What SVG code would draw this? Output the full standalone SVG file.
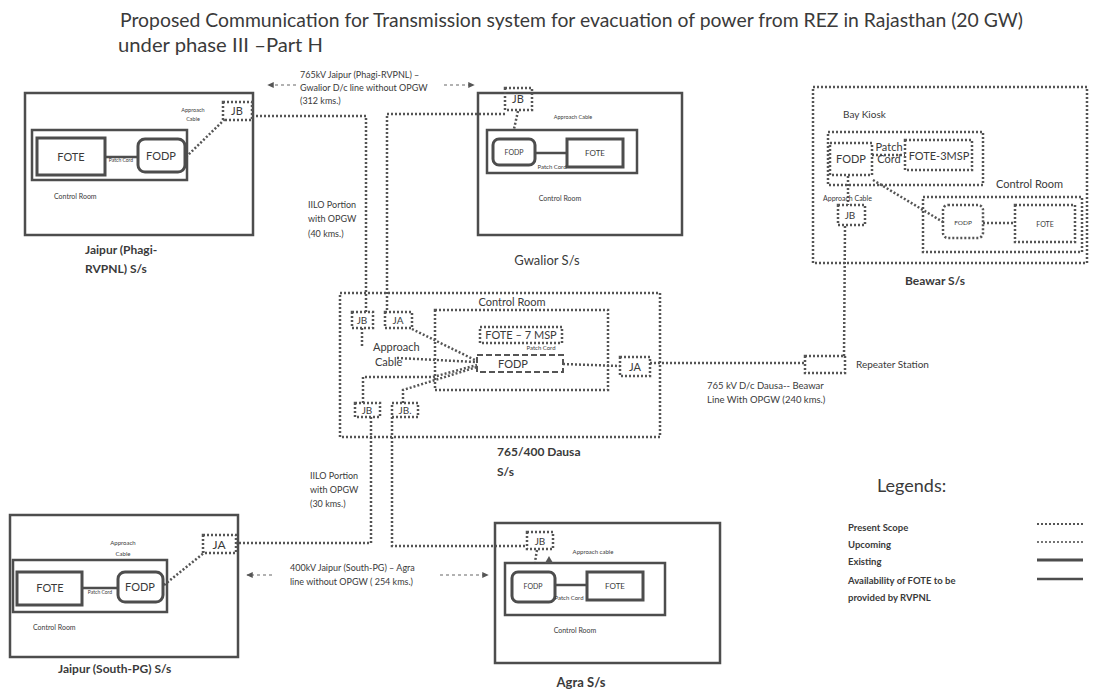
<svg xmlns="http://www.w3.org/2000/svg" width="1095" height="694" viewBox="0 0 1095 694">
<style>
text{font-family:Lato,"Open Sans","Liberation Sans",sans-serif;fill:#3a3a3a}
.b{font-weight:bold}
.box{fill:none;stroke:#4d4d4d;stroke-width:2.5}
.eq{fill:#fff;stroke:#4d4d4d;stroke-width:3}
.dot{fill:none;stroke:#555;stroke-width:2.5;stroke-dasharray:2 2}
.rdot{fill:none;stroke:#555;stroke-width:2.2;stroke-linecap:round;stroke-dasharray:0 4}
.dash{fill:none;stroke:#555;stroke-width:2;stroke-dasharray:6 3}
.sol{fill:none;stroke:#4d4d4d;stroke-width:2.5}
.arw{fill:none;stroke:#666;stroke-width:1.2;stroke-dasharray:3 3}
.m{text-anchor:middle}
</style>
<defs>
<marker id="ah" viewBox="0 0 10 10" refX="8" refY="5" markerWidth="6" markerHeight="6" orient="auto-start-reverse">
<path d="M0,1 L9,5 L0,9 z" fill="#555"/>
</marker>
</defs>
<rect width="1095" height="694" fill="#fff"/>

<g id="title">
<text x="120" y="27" font-size="19" textLength="903" lengthAdjust="spacingAndGlyphs">Proposed Communication for Transmission system for evacuation of power from REZ in Rajasthan (20 GW)</text>
<text x="118" y="52" font-size="19" textLength="205" lengthAdjust="spacingAndGlyphs">under phase III –Part H</text>
</g>

<g id="connectors">
<!-- top: Jaipur Phagi JB to Dausa, Gwalior JB to Dausa -->
<polyline class="dot" points="252,116 366,116 366,312"/>
<polyline class="dot" points="505,114 387,114 387,312"/>
<line class="dot" x1="518" y1="111" x2="514" y2="129"/>
<!-- bottom: Dausa to Jaipur South and Agra -->
<polyline class="dot" points="371,417 371,543 236,543"/>
<polyline class="dot" points="392,417 392,546 527,546"/>
<line class="dot" x1="537" y1="550" x2="535" y2="562"/>
<!-- Dausa to repeater to Beawar -->
<line class="dot" x1="650" y1="363" x2="805" y2="363"/>
<line class="dot" x1="845" y1="226" x2="844" y2="356"/>
<!-- Dausa internal approach cables -->
<line class="dot" x1="412" y1="329" x2="477" y2="361"/>
<line class="dot" x1="362" y1="328" x2="362" y2="346"/>
<line class="dot" x1="397" y1="358" x2="476" y2="362"/>
<polyline class="dot" points="363,403 363,377 433,377 477,365"/>
<polyline class="dot" points="403,403 403,390 477,367"/>
<line class="dot" x1="563" y1="364" x2="620" y2="366"/>
<!-- Jaipur Phagi internal -->
<line class="dot" x1="186" y1="157" x2="225" y2="119"/>
<!-- Jaipur South internal -->
<line class="dot" x1="164" y1="585" x2="205" y2="552"/>
<!-- Beawar internal -->
<line class="dot" x1="872" y1="155" x2="905" y2="155"/>
<line class="dot" x1="848" y1="176" x2="848" y2="205"/>
<line class="dot" x1="873" y1="180" x2="943" y2="222"/>
<line class="dot" x1="983" y1="223" x2="1015" y2="223"/>
<!-- line labels with arrows -->
<line class="arw" x1="296" y1="85" x2="268" y2="85" marker-end="url(#ah)"/>
<line class="arw" x1="444" y1="85" x2="474" y2="85" marker-end="url(#ah)"/>
<line class="arw" x1="272" y1="575" x2="247" y2="575" marker-end="url(#ah)"/>
<line class="arw" x1="440" y1="575" x2="488" y2="575" marker-end="url(#ah)"/>
</g>

<g id="line-labels">
<text x="300" y="78" font-size="9">765kV Jaipur (Phagi-RVPNL) –</text>
<text x="300" y="91" font-size="9">Gwalior  D/c line without OPGW</text>
<text x="300" y="104" font-size="9">(312 kms.)</text>
<text x="308" y="208" font-size="9">IILO Portion</text>
<text x="308" y="222" font-size="9">with OPGW</text>
<text x="308" y="237" font-size="9">(40 kms.)</text>
<text x="310" y="479" font-size="9">IILO Portion</text>
<text x="310" y="493" font-size="9">with OPGW</text>
<text x="310" y="507" font-size="9">(30 kms.)</text>
<text x="290" y="571" font-size="9">400kV Jaipur (South-PG) – Agra</text>
<text x="290" y="585" font-size="9">line without OPGW ( 254 kms.)</text>
<text x="707" y="389" font-size="9.5">765 kV D/c Dausa-- Beawar</text>
<text x="707" y="403" font-size="9.5">Line With  OPGW (240 kms.)</text>
</g>

<g id="jaipur-phagi">
<rect class="box" x="25" y="93" width="228" height="142"/>
<rect class="box" x="32" y="130" width="155" height="50"/>
<rect class="eq" x="37" y="138" width="68" height="37"/>
<rect class="eq" x="138" y="139" width="47" height="33" rx="7"/>
<line class="sol" x1="105" y1="157" x2="138" y2="157"/>
<text class="m" x="71" y="161" font-size="11">FOTE</text>
<text class="m" x="161" y="160" font-size="11">FODP</text>
<text class="m" x="121" y="162" font-size="5">Patch Cord</text>
<text class="m" x="193" y="112" font-size="5.5">Approach</text>
<text class="m" x="193" y="121" font-size="5.5">Cable</text>
<rect class="dot" x="223" y="102" width="29" height="18"/>
<text class="m" x="237" y="115" font-size="11">JB</text>
<text x="54" y="199" font-size="7">Control Room</text>
<text class="b" x="85" y="254" font-size="12">Jaipur (Phagi-</text>
<text class="b" x="85" y="273" font-size="12">RVPNL) S/s</text>
</g>

<g id="gwalior">
<rect class="box" x="478" y="93" width="204" height="142"/>
<rect class="box" x="487" y="130" width="150" height="43"/>
<rect class="eq" x="493" y="139" width="42" height="26" rx="6"/>
<rect class="eq" x="567" y="139" width="56" height="28"/>
<line class="sol" x1="535" y1="153" x2="567" y2="153"/>
<text class="m" x="514" y="155" font-size="7">FODP</text>
<text class="m" x="595" y="156" font-size="8">FOTE</text>
<text class="m" x="552" y="169" font-size="6">Patch Cord</text>
<text class="m" x="560" y="201" font-size="7">Control Room</text>
<rect class="dot" x="505" y="88" width="27" height="22" fill="#fff"/>
<text class="m" x="518" y="103" font-size="11">JB</text>
<text class="m" x="573" y="119" font-size="5.5">Approach Cable</text>
<text class="m" x="547" y="265" font-size="13">Gwalior S/s</text>
</g>

<g id="dausa">
<rect class="dot" x="340" y="293" width="320" height="144"/>
<text class="m" x="512" y="306" font-size="11">Control Room</text>
<rect class="dot" x="435" y="310" width="173" height="80"/>
<rect class="dot" x="480" y="327" width="82" height="16"/>
<text class="m" x="521" y="339" font-size="11">FOTE – 7 MSP</text>
<text class="m" x="541" y="350" font-size="6">Patch Cord</text>
<rect class="dash" x="477" y="355" width="86" height="17"/>
<text class="m" x="513" y="368" font-size="11">FODP</text>
<rect class="dot" x="352" y="312" width="21" height="16"/>
<text class="m" x="362" y="324" font-size="10">JB</text>
<rect class="dot" x="385" y="312" width="27" height="16"/>
<text class="m" x="398" y="324" font-size="10">JA</text>
<text x="373" y="351" font-size="11">Approach</text>
<text x="375" y="366" font-size="11">Cable</text>
<rect class="dot" x="355" y="403" width="25" height="14"/>
<text class="m" x="367" y="414" font-size="10">JB</text>
<rect class="dot" x="392" y="403" width="26" height="14"/>
<text class="m" x="405" y="414" font-size="10">JB.</text>
<rect class="dot" x="620" y="357" width="30" height="19"/>
<text class="m" x="635" y="371" font-size="11">JA</text>
<text class="b" x="497" y="456" font-size="12">765/400 Dausa</text>
<text class="b" x="497" y="476" font-size="12">S/s</text>
</g>

<g id="repeater">
<rect class="dot" x="805" y="356" width="40" height="17"/>
<text x="856" y="368" font-size="10">Repeater Station</text>
</g>

<g id="beawar">
<rect class="dot" x="813" y="87" width="274" height="176"/>
<text x="843" y="118" font-size="10">Bay Kiosk</text>
<rect class="dot" x="828" y="132" width="155" height="53"/>
<rect class="dot" x="830" y="143" width="42" height="32"/>
<text class="m" x="851" y="163" font-size="11">FODP</text>
<text class="m" x="889" y="151" font-size="11">Patch</text>
<text class="m" x="889" y="163" font-size="11">Cord</text>
<rect class="dot" x="905" y="140" width="67" height="30"/>
<text class="m" x="939" y="160" font-size="11">FOTE-3MSP</text>
<text x="996" y="188" font-size="11">Control Room</text>
<text x="823" y="201" font-size="7">Approach Cable</text>
<rect class="dot" x="838" y="205" width="27" height="20"/>
<text class="m" x="850" y="219" font-size="10">JB</text>
<rect class="dot" x="923" y="197" width="159" height="55"/>
<rect class="dot" x="943" y="205" width="40" height="33" rx="5"/>
<text class="m" x="963" y="225" font-size="6.5">FODP</text>
<rect class="dot" x="1015" y="205" width="60" height="37"/>
<text class="m" x="1045" y="227" font-size="7">FOTE</text>
<text class="b" x="905" y="285" font-size="12">Beawar S/s</text>
</g>

<g id="jaipur-south">
<rect class="box" x="10" y="515" width="228" height="142"/>
<rect class="box" x="13" y="560" width="154" height="52"/>
<rect class="eq" x="17" y="572" width="65" height="33"/>
<rect class="eq" x="118" y="572" width="45" height="30" rx="7"/>
<line class="sol" x1="82" y1="588" x2="118" y2="588"/>
<text class="m" x="50" y="592" font-size="11">FOTE</text>
<text class="m" x="140" y="591" font-size="11">FODP</text>
<text class="m" x="100" y="594" font-size="5">Patch Cord</text>
<text class="m" x="123" y="545" font-size="6">Approach</text>
<text class="m" x="123" y="556" font-size="6">Cable</text>
<rect class="dot" x="203" y="535" width="33" height="18"/>
<text class="m" x="219" y="549" font-size="12">JA</text>
<text x="33" y="630" font-size="7">Control Room</text>
<text class="b" x="58" y="673" font-size="12">Jaipur (South-PG) S/s</text>
</g>

<g id="agra">
<rect class="box" x="495" y="523" width="225" height="140"/>
<rect class="box" x="505" y="563" width="160" height="52"/>
<rect class="eq" x="512" y="572" width="43" height="30" rx="6"/>
<rect class="eq" x="587" y="572" width="56" height="28"/>
<line class="sol" x1="555" y1="585" x2="587" y2="585"/>
<text class="m" x="533" y="589" font-size="7">FODP</text>
<text class="m" x="615" y="589" font-size="8">FOTE</text>
<text class="m" x="569" y="600" font-size="6">Patch Cord</text>
<rect class="dot" x="527" y="532" width="26" height="17" fill="#fff"/>
<text class="m" x="540" y="545" font-size="10">JB</text>
<path d="M545,563 L549,556 L553,563 z" fill="#555"/>
<text class="m" x="593" y="554" font-size="6">Approach cable</text>
<text class="m" x="575" y="633" font-size="7">Control Room</text>
<text class="b m" x="581" y="687" font-size="13">Agra S/s</text>
</g>

<g id="legend">
<text x="877" y="492" font-size="18" fill="#444">Legends:</text>
<text class="b" x="848" y="531" font-size="9.5">Present Scope</text>
<text class="b" x="848" y="548" font-size="9.5">Upcoming</text>
<text class="b" x="848" y="565" font-size="9.5">Existing</text>
<text class="b" x="848" y="584" font-size="9.5">Availability of FOTE to be</text>
<text class="b" x="848" y="601" font-size="9.5">provided by RVPNL</text>
<line class="dot" x1="1037" y1="524" x2="1083" y2="524" style="stroke-width:2"/>
<line class="rdot" x1="1038" y1="542" x2="1083" y2="542"/>
<line x1="1037" y1="560" x2="1083" y2="560" stroke="#4d4d4d" stroke-width="3"/>
<line x1="1037" y1="579" x2="1083" y2="579" stroke="#4d4d4d" stroke-width="2.5"/>
</g>
</svg>
